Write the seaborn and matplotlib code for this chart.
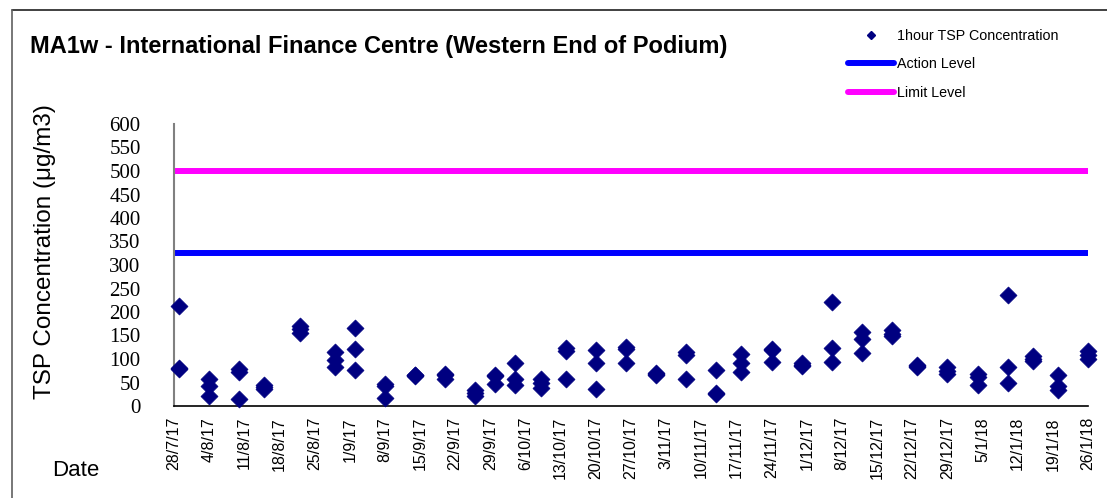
import matplotlib
matplotlib.use("Agg")
import matplotlib.pyplot as plt
from matplotlib.lines import Line2D
import pandas as pd
import seaborn as sns

# sampling dates (3 one-hour samples per day)
sample_dates = [
    "2017-07-29", "2017-08-04", "2017-08-10", "2017-08-15", "2017-08-22",
    "2017-08-29", "2017-09-02", "2017-09-08", "2017-09-14", "2017-09-20",
    "2017-09-26", "2017-09-30", "2017-10-04", "2017-10-09", "2017-10-14",
    "2017-10-20", "2017-10-26", "2017-11-01", "2017-11-07", "2017-11-13",
    "2017-11-18", "2017-11-24", "2017-11-30", "2017-12-06", "2017-12-12",
    "2017-12-18", "2017-12-23", "2017-12-29", "2018-01-04", "2018-01-10",
    "2018-01-15", "2018-01-20", "2018-01-26",
]
tsp_1 = [213, 57, 78, 45, 170, 114, 167, 47, 67, 69, 34, 67, 91, 57, 123, 120, 125,
         71, 115, 76, 111, 122, 91, 222, 157, 161, 88, 84, 68, 236, 106, 65, 117]
tsp_2 = [81, 43, 72, 40, 163, 98, 122, 42, 65, 65, 27, 63, 57, 50, 118, 91, 121,
         68, 109, 28, 92, 120, 88, 123, 142, 154, 85, 74, 62, 84, 100, 42, 108]
tsp_3 = [78, 21, 15, 37, 155, 84, 76, 18, 63, 57, 21, 46, 44, 39, 58, 37, 91,
         65, 57, 25, 72, 93, 86, 93, 112, 148, 83, 68, 45, 48, 95, 34, 99]

action_level = 326
limit_level = 500

tick_start = "2017-07-28"
tick_end = "2018-01-26"
y_ticks = list(range(0, 601, 50))

df = pd.DataFrame({
    "date": pd.to_datetime(sample_dates * 3),
    "tsp": tsp_1 + tsp_2 + tsp_3,
})

sns.set_style("white")
plt.rcParams["font.family"] = ["Liberation Sans", "DejaVu Sans"]
plt.rcParams["text.color"] = "black"
plt.rcParams["xtick.labelcolor"] = "black"
plt.rcParams["ytick.labelcolor"] = "black"

fig = plt.figure(figsize=(11.07, 4.98), dpi=100)
ax = fig.add_axes([174 / 1107, 92 / 498, (1088 - 174) / 1107, (406 - 124) / 498])

ax.axhline(limit_level, color="#FF00FF", linewidth=4.3, zorder=1)
ax.axhline(action_level, color="#0000FF", linewidth=4.3, zorder=1)
sns.scatterplot(data=df, x="date", y="tsp", ax=ax, marker="D", s=75,
                color="#000080", edgecolor="#000080", linewidth=0.5, zorder=3,
                legend=False, clip_on=False)

tick_dates = pd.date_range(tick_start, tick_end, freq="7D")
ax.set_xlim(tick_dates[0], tick_dates[-1])
ax.set_xticks(tick_dates)
ax.set_xticklabels([f"{d.day}/{d.month}/{d.strftime('%y')}" for d in tick_dates],
                   rotation=90, fontsize=11.5)
ax.set_ylim(0, 600)
ax.set_yticks(y_ticks)
ax.set_yticklabels([str(v) for v in y_ticks], fontsize=15, family="Liberation Serif")

ax.tick_params(axis="x", direction="inout", length=10, width=1, color="#808080", pad=3)
ax.tick_params(axis="y", direction="in", length=6, width=1, color="#808080", pad=24)
for side in ["top", "right"]:
    ax.spines[side].set_visible(False)
ax.spines["left"].set_color("#808080")
ax.spines["left"].set_linewidth(1.5)
ax.spines["bottom"].set_color("black")
ax.spines["bottom"].set_linewidth(1.2)
ax.set_xlabel("")
ax.set_ylabel("")

fig.text(45 / 1107, 1 - 252 / 498, "TSP Concentration (\u03bcg/m3)", rotation=90,
         ha="center", va="center", fontsize=17.5)
fig.text(52 / 1107, 1 - 470 / 498, "Date", ha="left", va="center", fontsize=16)
fig.text(30 / 1107, 1 - 47 / 498,
         "MA1w - International Finance Centre (Western End of Podium)",
         ha="left", va="center", fontsize=17, fontweight="bold")

handles = [
    Line2D([], [], linestyle="none", marker="D", markersize=4, color="#000080"),
    Line2D([], [], color="#0000FF", linewidth=4.3),
    Line2D([], [], color="#FF00FF", linewidth=4.3),
]
labels = ["1hour TSP Concentration", "Action Level", "Limit Level"]
fig.legend(handles, labels, loc="upper left", bbox_to_anchor=(841 / 1107, 1 - 22 / 498),
           frameon=False, fontsize=10.3, handlelength=3.2, handletextpad=0.2,
           labelspacing=1.0, borderpad=0)

# chart area border (cut at right/bottom edges)
fig.add_artist(Line2D([12 / 1107, 1.0], [1 - 10 / 498, 1 - 10 / 498],
                      color="#202020", linewidth=1.2, transform=fig.transFigure))
fig.add_artist(Line2D([12 / 1107, 12 / 1107], [0.0, 1 - 10 / 498],
                      color="#606060", linewidth=1.2, transform=fig.transFigure))

fig.savefig("out.png", dpi=100)
